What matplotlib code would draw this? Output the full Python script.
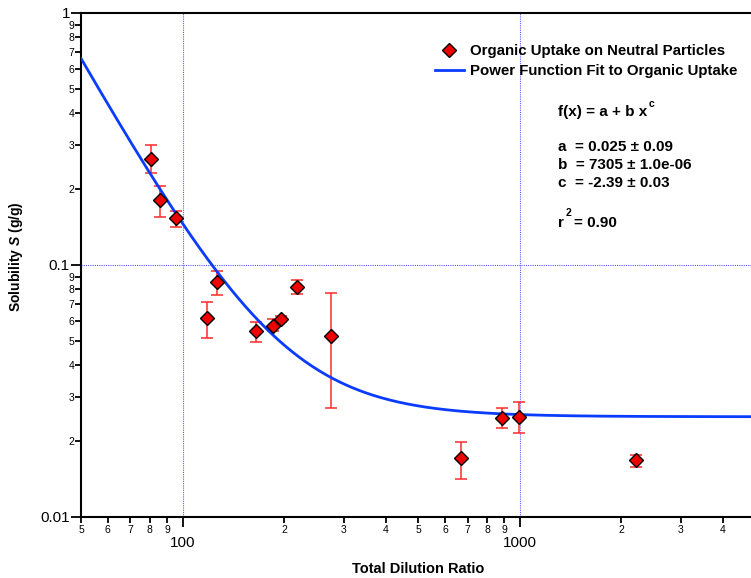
import matplotlib
matplotlib.use("Agg")
import matplotlib.pyplot as plt
from matplotlib.lines import Line2D
from matplotlib.ticker import FixedLocator, FixedFormatter
import numpy as np

plt.rcParams['font.family'] = ['Liberation Sans', 'DejaVu Sans']
plt.rcParams['mathtext.fontset'] = 'custom'
plt.rcParams['mathtext.bfit'] = 'Liberation Sans:bold:italic'

# data
dilution = [80.8, 86.0, 95.3, 118.4, 126.8, 164.7, 185.3, 196.3, 218.9, 275.5, 667, 884, 995, 2203]
solubility = [0.264, 0.181, 0.153, 0.0616, 0.0854, 0.0547, 0.0575, 0.0612, 0.0821, 0.0523, 0.0171, 0.0248, 0.0249, 0.0168]
err_upper = [0.298, 0.206, 0.164, 0.0716, 0.095, 0.0593, 0.0608, 0.0630, 0.0873, 0.0775, 0.0199, 0.0271, 0.0286, 0.0177]
err_lower = [0.232, 0.155, 0.1417, 0.0513, 0.0763, 0.0495, 0.0545, 0.0595, 0.0768, 0.027, 0.0142, 0.0225, 0.0215, 0.0158]

fit_a = 0.025
fit_b = 7305
fit_c = -2.39

x_major = [100, 1000]
x_major_labels = ['100', '1000']
x_minor = [50, 60, 70, 80, 90, 200, 300, 400, 500, 600, 700, 800, 900, 2000, 3000, 4000]
x_minor_labels = ['5', '6', '7', '8', '9', '2', '3', '4', '5', '6', '7', '8', '9', '2', '3', '4']
y_major = [0.01, 0.1, 1]
y_major_labels = ['0.01', '0.1', '1']
y_minor = [0.02, 0.03, 0.04, 0.05, 0.06, 0.07, 0.08, 0.09, 0.2, 0.3, 0.4, 0.5, 0.6, 0.7, 0.8, 0.9]
y_minor_labels = ['2', '3', '4', '5', '6', '7', '8', '9', '2', '3', '4', '5', '6', '7', '8', '9']

W, H = 751, 578
fig = plt.figure(figsize=(W / 100, H / 100), dpi=100)
ax = fig.add_axes([81 / W, 1 - 517 / H, 1 - 81 / W, (517 - 13) / H])
ax.set_xscale('log')
ax.set_yscale('log')
ax.set_xlim(50, 4842)
ax.set_ylim(0.01, 1)

# reference lines
grid_kw = dict(color='#5a5aff', linewidth=0.8, linestyle=(0, (1, 1)), zorder=1)
for xv in x_major:
    ax.axvline(xv, **grid_kw)
ax.axhline(0.1, **grid_kw)

# fit curve
xf = np.logspace(np.log10(50), np.log10(4842), 400)
ax.plot(xf, fit_a + fit_b * xf ** fit_c, color='#0a3cff', linewidth=2, zorder=3)

# data with error bars
sol = np.array(solubility)
yerr = [sol - np.array(err_lower), np.array(err_upper) - sol]
ax.errorbar(dilution, solubility, yerr=yerr, fmt='none', ecolor='#ff2a2a',
            elinewidth=1.1, capsize=4, capthick=1.1, zorder=2)
ax.plot(dilution, solubility, linestyle='none', marker='D', markersize=7.5,
        markerfacecolor='#ee0000', markeredgecolor='black', markeredgewidth=1, zorder=4)

# ticks
ax.xaxis.set_major_locator(FixedLocator(x_major))
ax.xaxis.set_major_formatter(FixedFormatter(x_major_labels))
ax.xaxis.set_minor_locator(FixedLocator(x_minor))
ax.xaxis.set_minor_formatter(FixedFormatter(x_minor_labels))
ax.yaxis.set_major_locator(FixedLocator(y_major))
ax.yaxis.set_major_formatter(FixedFormatter(y_major_labels))
ax.yaxis.set_minor_locator(FixedLocator(y_minor))
ax.yaxis.set_minor_formatter(FixedFormatter(y_minor_labels))

ax.tick_params(axis='x', which='major', direction='out', length=7, width=1.3, pad=7, labelsize=11)
ax.tick_params(axis='x', which='minor', direction='out', length=4, width=1.3, pad=2, labelsize=7.5)
ax.tick_params(axis='y', which='major', direction='out', length=7, width=1.3, pad=1, labelsize=11)
ax.tick_params(axis='y', which='minor', direction='out', length=4, width=1.3, pad=1, labelsize=7.5)
ax.tick_params(top=False, right=False, which='both')

for s in ['left', 'bottom', 'top']:
    ax.spines[s].set_linewidth(1.5)
ax.spines['right'].set_visible(False)

ax.set_xlabel('Total Dilution Ratio', fontsize=10.5, fontweight='bold')
ax.xaxis.set_label_coords((418 - 81) / 670, -(562 - 517) / 504)
ax.set_ylabel(r'Solubility $\mathbfit{S}$ (g/g)', fontsize=10, fontweight='bold')
ax.yaxis.set_label_coords((25 - 81) / 670, (517 - 257) / 504)

# legend
handles = [Line2D([], [], linestyle='none', marker='D', markersize=7.5,
                  markerfacecolor='#ee0000', markeredgecolor='black', markeredgewidth=1),
           Line2D([], [], color='#0a3cff', linewidth=2)]
labels = ['Organic Uptake on Neutral Particles', 'Power Function Fit to Organic Uptake']
fig.legend(handles, labels, loc='upper left', bbox_to_anchor=(435 / W, 1 - 44 / H),
           frameon=False, prop={'weight': 'bold', 'size': 10.8}, handlelength=1.9,
           handletextpad=0.45, borderpad=0, borderaxespad=0, labelspacing=0.42)

# annotation
tk = dict(fontsize=11, fontweight='bold', transform=fig.transFigure, va='center', ha='left')
sk = dict(fontsize=7.5, fontweight='bold', transform=fig.transFigure, va='center', ha='left')
fig.text(558 / W, 1 - 112 / H, r'f(x) = a + b x', **tk)
fig.text(649 / W, 1 - 104 / H, 'c', **sk)
fig.text(558 / W, 1 - 147 / H, 'a  = 0.025 \u00b1 0.09', **tk)
fig.text(558 / W, 1 - 165 / H, 'b  = 7305 \u00b1 1.0e-06', **tk)
fig.text(558 / W, 1 - 183 / H, 'c  = -2.39 \u00b1 0.03', **tk)
fig.text(558 / W, 1 - 223 / H, 'r', **tk)
fig.text(566 / W, 1 - 213 / H, '2', **sk)
fig.text(574 / W, 1 - 223 / H, '= 0.90', **tk)

fig.savefig('out.png', dpi=100)
